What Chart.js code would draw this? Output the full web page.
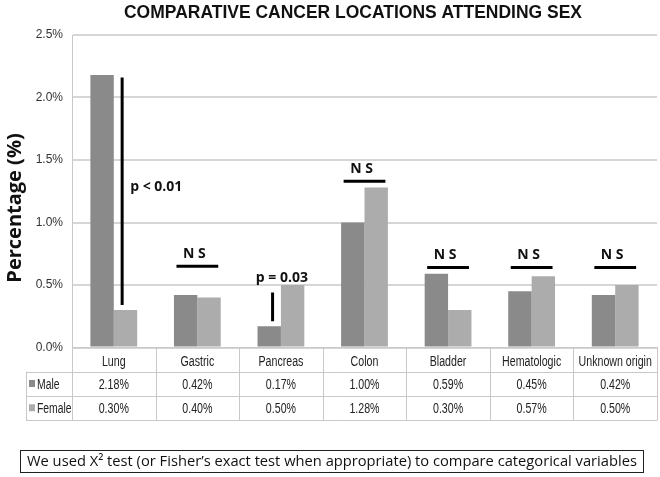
<!DOCTYPE html>
<html>
<head>
<meta charset="utf-8">
<script src="https://cdn.jsdelivr.net/npm/chart.js@4.4.0/dist/chart.umd.min.js"></script>
<style>
  html, body { margin: 0; padding: 0; background: #fff; }
  #wrap { width: 660px; height: 477px; position: relative; }
</style>
</head>
<body>
<div id="wrap"><canvas id="chart1"></canvas></div>
<script>
// ----------------------------
// Data
// ----------------------------
const categories   = ["Lung", "Gastric", "Pancreas", "Colon", "Bladder", "Hematologic", "Unknown origin"];
const maleValues   = [2.18, 0.42, 0.17, 1.00, 0.59, 0.45, 0.42];
const femaleValues = [0.30, 0.40, 0.50, 1.28, 0.30, 0.57, 0.50];
const seriesNames  = ["Male", "Female"];
const sigLabels    = ["p < 0.01", "N S", "p = 0.03", "N S", "N S", "N S", "N S"];
const sigLevels    = [2.16, 0.65, 0.44, 1.33, 0.64, 0.64, 0.64]; // top of each significance mark, in %
const yTicks       = [0, 0.5, 1.0, 1.5, 2.0, 2.5];
const titleText    = "COMPARATIVE CANCER LOCATIONS ATTENDING SEX";
const yTitleText   = "Percentage (%)";
const footnoteText = "We used X\u00B2 test (or Fisher\u2019s exact test when appropriate) to compare categorical variables";

const maleColor   = "#8a8a8a";
const femaleColor = "#acacac";
const sans = '"Liberation Sans", Arial, sans-serif';

// text squeezed horizontally (no narrow font installed)
function narrowText(ctx, txt, x, y, sx, align) {
  ctx.save();
  ctx.translate(x, y);
  ctx.scale(sx, 1);
  ctx.textAlign = align;
  ctx.fillText(txt, 0, 0);
  ctx.restore();
}

// ----------------------------
// Overlay: title, y title, significance marks, data table, footnote
// ----------------------------
const overlay = {
  id: "overlay",
  afterDraw(chart) {
    const ctx = chart.ctx;
    const xs = chart.scales.x, ys = chart.scales.y, area = chart.chartArea;
    const cw = xs.width / categories.length;
    ctx.save();

    // title
    ctx.fillStyle = "#111";
    ctx.textBaseline = "middle";
    ctx.font = "bold 18px " + sans;
    const tw = ctx.measureText(titleText).width;
    narrowText(ctx, titleText, 353, 13, 458 / tw, "center");

    // y title
    ctx.save();
    ctx.translate(15, 208);
    ctx.rotate(-Math.PI / 2);
    ctx.textAlign = "center";
    ctx.font = 'bold 20px "Open Sans", "Liberation Sans", sans-serif';
    ctx.fillText(yTitleText, 0, 0);
    ctx.restore();

    // significance marks
    ctx.strokeStyle = "#000";
    ctx.fillStyle = "#111";
    ctx.lineWidth = 3;
    for (let i = 0; i < categories.length; i++) {
      const cx = xs.getPixelForValue(i);
      const lab = sigLabels[i];
      const top = ys.getPixelForValue(sigLevels[i]);
      ctx.font = 'bold 14px "Open Sans", "Liberation Sans", sans-serif';
      if (lab.startsWith("N")) {
        ctx.beginPath();
        ctx.moveTo(cx - cw * 0.25, top);
        ctx.lineTo(cx + cw * 0.25, top);
        ctx.stroke();
        ctx.textAlign = "center";
        ctx.fillText(lab, cx - 3, top - 12);
      } else {
        const m = maleValues[i], f = femaleValues[i];
        const lx = cx + (m > f ? 0.1 : -0.1) * cw;
        const bottom = ys.getPixelForValue(Math.min(m, f) + 0.04);
        ctx.beginPath();
        ctx.moveTo(lx, top);
        ctx.lineTo(lx, bottom);
        ctx.stroke();
        if (bottom - top > 100) {
          ctx.textAlign = "left";
          ctx.fillText(lab, lx + 8, (top + bottom) / 2 - 4);
        } else {
          ctx.textAlign = "center";
          ctx.fillText(lab, cx + 1, top - 14);
        }
      }
    }

    // data table
    const t0 = area.bottom, rh = 24.3;
    const legL = 26, right = area.right;
    ctx.strokeStyle = "#c8c8c8";
    ctx.lineWidth = 1;
    ctx.beginPath();
    for (let r = 1; r <= 3; r++) {
      ctx.moveTo(legL, Math.round(t0 + r * rh) + 0.5);
      ctx.lineTo(right, Math.round(t0 + r * rh) + 0.5);
    }
    ctx.moveTo(legL + 0.5, t0 + rh);
    ctx.lineTo(legL + 0.5, t0 + 3 * rh);
    for (let i = 0; i <= categories.length; i++) {
      const x = Math.round(area.left + i * cw) + 0.5;
      ctx.moveTo(x, t0);
      ctx.lineTo(x, t0 + 3 * rh);
    }
    ctx.stroke();

    ctx.fillStyle = "#222";
    ctx.font = "14px " + sans;
    const sq = 0.76;
    for (let i = 0; i < categories.length; i++) {
      const cx = xs.getPixelForValue(i);
      narrowText(ctx, categories[i], cx, t0 + rh * 0.5 + 2, sq, "center");
      narrowText(ctx, maleValues[i].toFixed(2) + "%", cx, t0 + rh * 1.5 + 1, sq, "center");
      narrowText(ctx, femaleValues[i].toFixed(2) + "%", cx, t0 + rh * 2.5 + 1, sq, "center");
    }
    // legend keys in the table
    const keyColors = [maleColor, femaleColor];
    for (let s = 0; s < seriesNames.length; s++) {
      const yc = t0 + rh * (1.5 + s);
      ctx.fillStyle = keyColors[s];
      ctx.fillRect(legL + 3, yc - 4, 6, 7);
      ctx.fillStyle = "#222";
      narrowText(ctx, seriesNames[s], legL + 11, yc + 1, 0.74, "left");
    }

    // footnote box
    ctx.strokeStyle = "#222";
    ctx.lineWidth = 1;
    ctx.strokeRect(20.5, 450.5, 623, 22);
    ctx.fillStyle = "#111";
    ctx.font = '14px "Open Sans", "Liberation Sans", sans-serif';
    const w = ctx.measureText(footnoteText).width;
    const fs = 14 * 610 / w;
    ctx.font = fs.toFixed(2) + 'px "Open Sans", "Liberation Sans", sans-serif';
    ctx.textAlign = "left";
    ctx.fillText(footnoteText, 27, 462);

    ctx.restore();
  }
};

// ----------------------------
// Chart
// ----------------------------
const ctx1 = document.getElementById("chart1").getContext("2d");
new Chart(ctx1, {
  type: "bar",
  data: {
    labels: categories,
    datasets: [
      { label: seriesNames[0], data: maleValues, backgroundColor: maleColor, borderWidth: 0,
        categoryPercentage: 0.56, barPercentage: 1.0 },
      { label: seriesNames[1], data: femaleValues, backgroundColor: femaleColor, borderWidth: 0,
        categoryPercentage: 0.56, barPercentage: 1.0 }
    ]
  },
  options: {
    responsive: true,
    maintainAspectRatio: false,
    animation: false,
    events: [],
    layout: { padding: { top: 35, right: 3, left: 0, bottom: 0 } },
    plugins: {
      legend: { display: false },
      tooltip: { enabled: false },
      title: { display: false }
    },
    scales: {
      x: {
        ticks: { display: false },
        grid: { display: false, drawTicks: false },
        border: { display: true, color: "#c8c8c8" },
        afterFit: s => { s.height = 129.5; }
      },
      y: {
        min: yTicks[0],
        max: yTicks[yTicks.length - 1],
        afterBuildTicks: s => { s.ticks = yTicks.map(v => ({ value: v })); },
        ticks: {
          padding: 9,
          color: "#333",
          font: { family: sans, size: 12 },
          callback: v => Number(v).toFixed(1) + "%"
        },
        grid: { color: "#d6d6d6", lineWidth: 2, drawTicks: false },
        border: { display: true, color: "#c8c8c8", width: 1 },
        afterFit: s => { s.width = 72; }
      }
    }
  },
  plugins: [overlay]
});
</script>
</body>
</html>
